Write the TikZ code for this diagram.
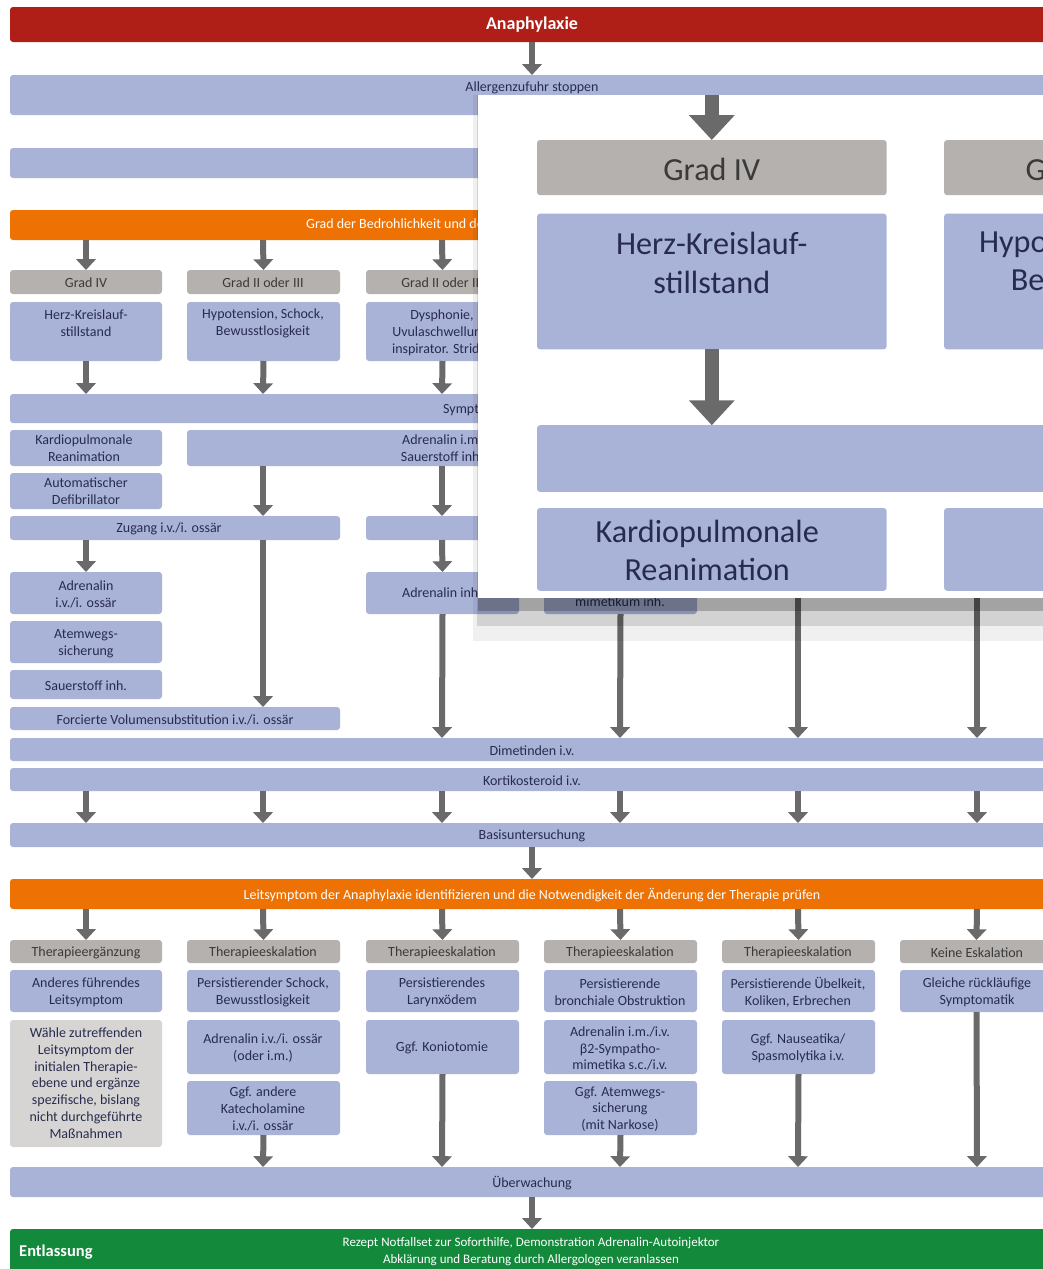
\documentclass[tikz,border=0pt]{standalone}
\usepackage{fontspec}
\setmainfont{Carlito}
\usetikzlibrary{arrows.meta}

\definecolor{redbar}{HTML}{AF1F17}
\definecolor{orangebar}{HTML}{EE7203}
\definecolor{greenbar}{HTML}{13893B}
\definecolor{boxblue}{HTML}{A9B3D7}
\definecolor{hdrgrey}{HTML}{B5B1AE}
\definecolor{notegrey}{HTML}{D7D5D4}
\definecolor{arrowgrey}{HTML}{6A6A6A}
\definecolor{inktext}{HTML}{272C4E}
\definecolor{hdrtext}{HTML}{3A3A3A}

\newlength\arrowlw
\setlength\arrowlw{6pt}

\tikzset{
  base/.style={inner sep=0pt, outer sep=0pt, rounded corners=3pt, draw=none},
  bluebox/.style={base, fill=boxblue},
  hdrbox/.style={base, fill=hdrgrey},
  notebox/.style={base, fill=notegrey},
  redbox/.style={base, fill=redbar},
  orangebox/.style={base, fill=orangebar},
  greenbox/.style={base, fill=greenbar},
  lbl/.style={inner sep=0pt, align=center, text=inktext, font=\fontsize{14}{16.8}\selectfont},
  hlbl/.style={lbl, text=hdrtext},
  wlbl/.style={lbl, text=white},
  farrow/.style={draw=arrowgrey, line width=\arrowlw, -{Triangle[length=0pt 1.8, width=0pt 3.2]}},
}

% box from top-left (x1,y1) to bottom-right (x2,y2)
\newcommand\bx[6]{%
  \pgfmathsetmacro\bxw{#5-#3}%
  \pgfmathsetmacro\bxh{#6-#4}%
  \node[#1, minimum width=\bxw pt, minimum height=\bxh pt, anchor=north west] (#2) at (#3,#4) {};%
}

% severity grades and first measures (drawn at full size and enlarged)
\newcommand\upperrows[1]{%
  \coordinate (#1-c1) at (86,0);
  \coordinate (#1-c2) at (263,0);
  \coordinate (#1-c3) at (442,0);
  \bx{orangebox}{#1-grad}{10}{210}{1053}{240}
  \node[wlbl, anchor=west] (#1-grad-t) at (306,225) {Grad der Bedrohlichkeit und des Leitsymptoms bestimmen};
  \bx{hdrbox}{#1-h1}{10}{270}{162}{294}
  \bx{hdrbox}{#1-h2}{187}{270}{340}{294}
  \bx{hdrbox}{#1-h3}{366}{270}{519}{294}
  \node[hlbl] (#1-h1-t) at (86,283) {Grad IV};
  \node[hlbl] (#1-h2-t) at (263,283) {Grad II oder III};
  \node[hlbl] (#1-h3-t) at (442,283) {Grad II oder III};
  \draw[farrow] (#1-grad.south -| #1-c1) -- (#1-h1.north);
  \draw[farrow] (#1-grad.south -| #1-c2) -- (#1-h2.north);
  \draw[farrow] (#1-grad.south -| #1-c3) -- (#1-h3.north);
  \bx{bluebox}{#1-s1}{10}{302}{162}{361}
  \bx{bluebox}{#1-s2}{187}{302}{340}{361}
  \bx{bluebox}{#1-s3}{366}{302}{519}{361}
  \node[lbl] (#1-s1-t) at (86,323.5) {Herz-Kreislauf-\\stillstand};
  \node[lbl] (#1-s2-t) at (263,323.5) {Hypotension, Schock,\\Bewusstlosigkeit};
  \node[lbl] (#1-s3-t) at (442,332.5) {Dysphonie,\\Uvulaschwellung,\\inspirator. Stridor};
  \bx{bluebox}{#1-lag}{10}{394}{1053}{423}
  \node[lbl, anchor=west] (#1-lag-t) at (443,409.5) {Symptomorientierte Lagerung};
  \draw[farrow] (#1-s1.south) -- (#1-lag.north -| #1-c1);
  \draw[farrow] (#1-s2.south) -- (#1-lag.north -| #1-c2);
  \draw[farrow] (#1-s3.south) -- (#1-lag.north -| #1-c3);
  \bx{bluebox}{#1-k1}{10}{430}{162}{466}
  \node[lbl] (#1-k1-t) at (84,448.5) {Kardiopulmonale\\Reanimation};
  \bx{bluebox}{#1-adr}{187}{430}{697}{466}
  \node[lbl] (#1-adr-t) at (442,448.5) {Adrenalin i.m.\\Sauerstoff inh.};
}

\begin{document}
\begin{tikzpicture}[x=1pt,y=-1pt]
\fill[white] (0,0) rectangle (1043,1269);
\useasboundingbox (0,0) rectangle (1043,1269);
\clip (0,0) rectangle (1043,1269);

\coordinate (mid) at (532,0);
\coordinate (c1) at (86,0);
\coordinate (c2) at (263,0);
\coordinate (c3) at (442,0);
\coordinate (c4) at (620,0);
\coordinate (c5) at (798,0);
\coordinate (c6) at (977,0);

% start
\bx{redbox}{ana}{10}{7}{1053}{42}
\node[wlbl, font=\bfseries\fontsize{18}{20}\selectfont] (ana-t) at (532,25) {Anaphylaxie};
\bx{bluebox}{stop}{10}{75}{1053}{115}
\node[lbl] (stop-t) at (532,88) {Allergenzufuhr stoppen};
\draw[farrow] (ana.south -| mid) -- (stop.north -| mid);
\bx{bluebox}{help}{10}{148}{1053}{178}

\upperrows{m}

% initial therapy
\bx{bluebox}{def}{10}{473}{162}{509}
\node[lbl] (def-t) at (86,491.5) {Automatischer\\Defibrillator};
\bx{bluebox}{zug}{10}{516}{340}{540}
\node[lbl] (zug-t) at (169,529) {Zugang i.v./i. ossär};
\bx{bluebox}{sit}{366}{516}{697}{540}
\draw[farrow] (m-adr.south -| c2) -- (zug.north -| c2);
\draw[farrow] (m-adr.south -| c3) -- (sit.north -| c3);

\bx{bluebox}{adr1}{10}{572}{162}{614}
\node[lbl] (adr1-t) at (86,594.5) {Adrenalin\\i.v./i. ossär};
\bx{bluebox}{atw}{10}{621}{162}{663}
\node[lbl] (atw-t) at (86,643.5) {Atemwegs-\\sicherung};
\bx{bluebox}{oxy}{10}{670}{162}{699}
\node[lbl] (oxy-t) at (86,685.5) {Sauerstoff inh.};
\bx{bluebox}{vol}{10}{707}{340}{730}
\node[lbl] (vol-t) at (175,719.5) {Forcierte Volumensubstitution i.v./i. ossär};
\draw[farrow] (zug.south -| c1) -- (adr1.north);
\draw[farrow] (zug.south -| c2) -- (vol.north -| c2);

\bx{bluebox}{ainh}{366}{572}{519}{614}
\node[lbl] (ainh-t) at (442,593) {Adrenalin inh.};
\draw[farrow] (sit.south -| c3) -- (ainh.north);
\bx{bluebox}{beta}{544}{572}{697}{614}
\node[lbl] (beta-t) at (620,602) {mimetikum inh.};
\coordinate (src5) at (798,590);
\coordinate (src6) at (977,590);

% common medication
\bx{bluebox}{dim}{10}{738}{1053}{761}
\node[lbl] (dim-t) at (532,751) {Dimetinden i.v.};
\bx{bluebox}{kort}{10}{768}{1053}{791}
\node[lbl] (kort-t) at (532,781) {Kortikosteroid i.v.};
\draw[farrow] (ainh.south) -- (dim.north -| c3);
\draw[farrow] (beta.south) -- (dim.north -| c4);
\draw[farrow] (src5) -- (dim.north -| c5);
\draw[farrow] (src6) -- (dim.north -| c6);

\bx{bluebox}{basis}{10}{823}{1053}{847}
\node[lbl] (basis-t) at (532,836) {Basisuntersuchung};
\foreach \c in {c1,c2,c3,c4,c5,c6}
  \draw[farrow] (kort.south -| \c) -- (basis.north -| \c);

\bx{orangebox}{leit}{10}{879}{1053}{909}
\node[wlbl] (leit-t) at (532,895) {Leitsymptom der Anaphylaxie identifizieren und die Notwendigkeit der Änderung der Therapie prüfen};
\draw[farrow] (basis.south -| mid) -- (leit.north -| mid);

% re-evaluation
\bx{hdrbox}{t1}{10}{940}{162}{963}
\bx{hdrbox}{t2}{187}{940}{340}{963}
\bx{hdrbox}{t3}{366}{940}{519}{963}
\bx{hdrbox}{t4}{544}{940}{697}{963}
\bx{hdrbox}{t5}{722}{940}{875}{963}
\bx{hdrbox}{t6}{900}{940}{1053}{963}
\node[hlbl] (t1-t) at (86,953) {Therapieergänzung};
\node[hlbl] (t2-t) at (263,953) {Therapieeskalation};
\node[hlbl] (t3-t) at (442,953) {Therapieeskalation};
\node[hlbl] (t4-t) at (620,953) {Therapieeskalation};
\node[hlbl] (t5-t) at (798,953) {Therapieeskalation};
\node[hlbl] (t6-t) at (977,953) {Keine Eskalation};
\foreach \i in {1,...,6}
  \draw[farrow] (leit.south -| c\i) -- (t\i.north);

\bx{bluebox}{r1}{10}{970}{162}{1012}
\bx{bluebox}{r2}{187}{970}{340}{1012}
\bx{bluebox}{r3}{366}{970}{519}{1012}
\bx{bluebox}{r4}{544}{970}{697}{1012}
\bx{bluebox}{r5}{722}{970}{875}{1012}
\bx{bluebox}{r6}{900}{970}{1053}{1012}
\node[lbl] (r1-t) at (86,992.5) {Anderes führendes\\Leitsymptom};
\node[lbl] (r2-t) at (263,992.5) {Persistierender Schock,\\Bewusstlosigkeit};
\node[lbl] (r3-t) at (442,992.5) {Persistierendes\\Larynxödem};
\node[lbl] (r4-t) at (620,992.5) {Persistierende\\bronchiale Obstruktion};
\node[lbl] (r5-t) at (798,992.5) {Persistierende Übelkeit,\\Koliken, Erbrechen};
\node[lbl] (r6-t) at (977,992.5) {Gleiche rückläufige\\Symptomatik};

\bx{notebox}{n1}{10}{1020}{162}{1147}
\node[lbl] (n1-t) at (86,1083) {Wähle zutreffenden\\Leitsymptom der\\initialen Therapie-\\ebene und ergänze\\spezifische, bislang\\nicht durchgeführte\\Maßnahmen};
\bx{bluebox}{u2a}{187}{1020}{340}{1074}
\node[lbl] (u2a-t) at (263,1048) {Adrenalin i.v./i. ossär\\(oder i.m.)};
\bx{bluebox}{u2b}{187}{1081}{340}{1135}
\node[lbl] (u2b-t) at (263,1109) {Ggf. andere\\Katecholamine\\i.v./i. ossär};
\bx{bluebox}{u3a}{366}{1020}{519}{1074}
\node[lbl] (u3a-t) at (442,1048) {Ggf. Koniotomie};
\bx{bluebox}{u4a}{544}{1020}{697}{1074}
\node[lbl] (u4a-t) at (620,1048.5) {Adrenalin i.m./i.v.\\β2-Sympatho-\\mimetika s.c./i.v.};
\bx{bluebox}{u4b}{544}{1081}{697}{1135}
\node[lbl] (u4b-t) at (620,1109) {Ggf. Atemwegs-\\sicherung\\(mit Narkose)};
\bx{bluebox}{u5a}{722}{1020}{875}{1074}
\node[lbl] (u5a-t) at (798,1048) {Ggf. Nauseatika/\\Spasmolytika i.v.};

\bx{bluebox}{ueb}{10}{1167}{1053}{1197}
\node[lbl] (ueb-t) at (532,1183) {Überwachung};
\draw[farrow] (u2b.south) -- (ueb.north -| c2);
\draw[farrow] (u3a.south) -- (ueb.north -| c3);
\draw[farrow] (u4b.south) -- (ueb.north -| c4);
\draw[farrow] (u5a.south) -- (ueb.north -| c5);
\draw[farrow] (r6.south) -- (ueb.north -| c6);

\bx{greenbox}{entl}{10}{1229}{1053}{1290}
\draw[farrow] (ueb.south -| mid) -- (entl.north -| mid);
\node[wlbl, anchor=west, font=\bfseries\fontsize{16.5}{18}\selectfont] (entl-t) at (19,1252) {Entlassung};
\node[wlbl, font=\fontsize{13}{17}\selectfont] (entl-m) at (531,1252) {Rezept Notfallset zur Soforthilfe, Demonstration Adrenalin-Autoinjektor\\Abklärung und Beratung durch Allergologen veranlassen};

% enlarged detail panel with soft shadow
\fill[black, opacity=0.06] (473,95) rectangle (1043,641);
\fill[black, opacity=0.12] (477,95) rectangle (1043,626);
\fill[black, opacity=0.22] (478,95) rectangle (1043,611);
\fill[white] (478,95) rectangle (1043,598);
\begin{scope}
  \clip (478,95) rectangle (1043,598);
  \begin{scope}[shift={(514,-481)}, scale=2.3, transform shape]
    \setlength\arrowlw{13.8pt}
    \upperrows{z}
  \end{scope}
\end{scope}
\end{tikzpicture}
\end{document}
